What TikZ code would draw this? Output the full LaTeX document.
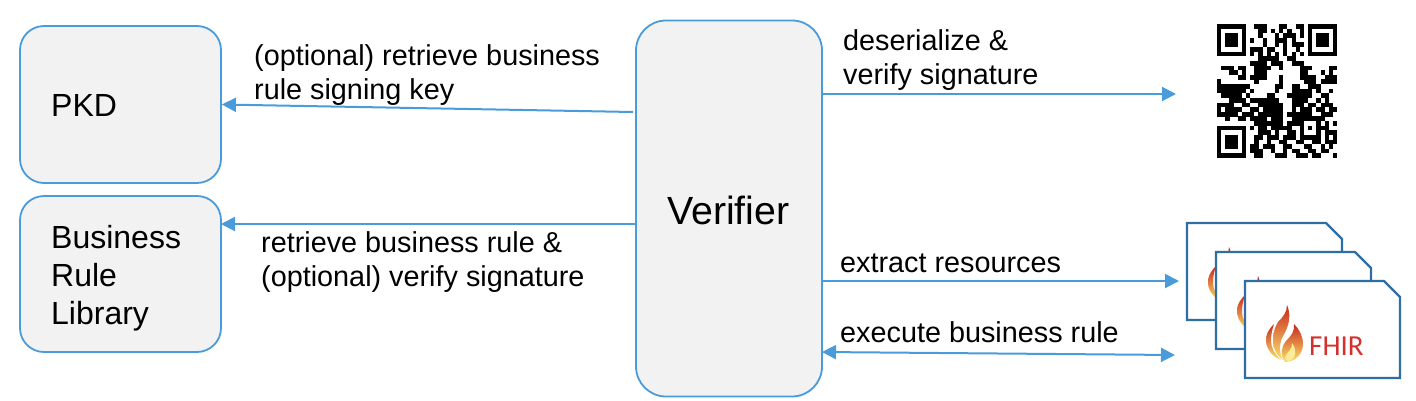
\documentclass[tikz,border=0pt]{standalone}
\usepackage{fontspec}
\setmainfont{Liberation Sans}
\newfontfamily\fhirfont{Carlito}
\definecolor{lineblue}{HTML}{4A9BD9}
\definecolor{boxfill}{HTML}{F2F2F2}
\definecolor{docblue}{HTML}{2E6EA3}
\definecolor{fhirred}{HTML}{D2322D}
\definecolor{flred}{HTML}{C8281E}
\definecolor{florange}{HTML}{F4A22E}
\definecolor{flyellow}{HTML}{FBE36A}
\usetikzlibrary{arrows.meta}
\newcount\qrcol
\newcount\qrrow
\def\qrscan#1{\ifx#1.\else\if1#1\fill[black] (1217+4.14*\the\qrcol,24+4.62*\the\qrrow) rectangle ++(4.24,4.72);\fi\advance\qrcol by 1 \expandafter\qrscan\fi}
\newcommand\qrline[1]{\qrcol=0 \qrscan#1.\advance\qrrow by 1 }
\newcommand\flameicon[2]{%
\begin{scope}[shift={(#1,#2)}]
 \shade[top color=flred,middle color=florange,bottom color=flyellow]
  (29,43) .. controls (23,49) and (20,55) .. (21,61) .. controls (22,69) and (28,76) .. (36,79) .. controls (30,73) and (26,67) .. (26,60) .. controls (26,54) and (27,49) .. (29,43) -- cycle;
 \shade[top color=flred,middle color=florange,bottom color=flyellow]
  (42,24) .. controls (42,31) and (38,36) .. (33,41) .. controls (29,47) and (28,54) .. (28,60) .. controls (28,68) and (32,75) .. (38,79) .. controls (34,72) and (34,64) .. (37,57) .. controls (41,50) and (48,38) .. (42,24) -- cycle;
 \shade[top color=flred,middle color=florange,bottom color=flyellow]
  (49,43) .. controls (50,50) and (46,55) .. (41,60) .. controls (36,66) and (35,74) .. (40,81) .. controls (50,81) and (58,73) .. (58,63) .. controls (58,55) and (54,48) .. (49,43) -- cycle;
 \fill[flyellow!70!white] (47,62) .. controls (48,68) and (42,71) .. (40,76) .. controls (40,79) and (41,80) .. (43,80) .. controls (50,79) and (53,70) .. (47,62) -- cycle;
\end{scope}}
\newcommand\docicon[2]{\draw[docicon] (#1,#2) -- ++(139,0) -- ++(16,16) -- ++(0,81) -- ++(-155,0) -- cycle;}
\tikzset{
 x=1pt,y=-1pt,
 boxnode/.style={draw=lineblue,fill=boxfill,line width=1.8pt,rounded corners=#1,inner sep=0pt},
 boxnode/.default=24pt,
 lbl/.style={anchor=base west,inner sep=0pt,font=\fontsize{28.8}{32}\selectfont},
 boxtext/.style={anchor=base west,inner sep=0pt,font=\fontsize{32}{36}\selectfont},
 conn/.style={draw=lineblue,line width=2pt,-{Triangle[length=14pt,width=14pt]}},
 connb/.style={draw=lineblue,line width=2pt,{Triangle[length=14pt,width=14pt]}-{Triangle[length=14pt,width=14pt]}},
 docicon/.style={draw=docblue,fill=white,line width=2.4pt},
}
\begin{document}
\begin{tikzpicture}
\useasboundingbox (0,0) rectangle (1416,400);
\node[boxnode,minimum width=201pt,minimum height=157pt] (pkd) at (120.5,104.5) {};
\node[boxnode,minimum width=201pt,minimum height=156pt] (brl) at (120.5,274) {};
\node[boxnode=30pt,minimum width=186pt,minimum height=376pt] (ver) at (729,208.5) {};
\node[boxtext] (tpkd) at (51,116) {PKD};
\node[boxtext] (tb1) at (51,248) {Business};
\node[boxtext] (tb2) at (51,286) {Rule};
\node[boxtext] (tb3) at (51,324) {Library};
\node[anchor=base west,inner sep=0pt,font=\fontsize{39.3}{42}\selectfont] (tver) at (667,224) {Verifier};
\node[lbl] (l1) at (254,65.7) {(optional) retrieve business};
\node[lbl] (l2) at (254,99.7) {rule signing key};
\node[lbl] (l3) at (261,252.7) {retrieve business rule \&};
\node[lbl] (l4) at (261,286.7) {(optional) verify signature};
\node[lbl] (l5) at (843,50.7) {deserialize \&};
\node[lbl] (l6) at (843,84.7) {verify signature};
\node[lbl] (l7) at (840,272.7) {extract resources};
\node[lbl] (l8) at (840,342.7) {execute business rule};
% QR code
\qrrow=0
\qrline{11111110011100011001101111111}
\qrline{10000010001101010100101000001}
\qrline{10111010001000101110101011101}
\qrline{10111010100100111010001011101}
\qrline{10111010000100101011101011101}
\qrline{10000010111011001001001000001}
\qrline{11111110101010101010101111111}
\qrline{00000000001111100110000000000}
\qrline{00000000111101110011100000000}
\qrline{01110110011110010000111000011}
\qrline{00011010011100000000110001010}
\qrline{00000110111100010000111100111}
\qrline{10000000010000010000011101111}
\qrline{11111111000000110011001110000}
\qrline{11111110100000100011111010010}
\qrline{01111101000011000111111001100}
\qrline{00011110111111100011110010100}
\qrline{11110011001111110011101101110}
\qrline{10111100110111110010111011011}
\qrline{11111011101111110111111001110}
\qrline{00100110111101110011111111000}
\qrline{00000000011111110111100010101}
\qrline{11111110101101111100101011100}
\qrline{10000010001110100110100010111}
\qrline{10111010011011101110111110101}
\qrline{10111010010010011001100110111}
\qrline{10111010110111001100011001010}
\qrline{10000010111001001011001101100}
\qrline{11111110011000111001110110001}
% documents
\docicon{1187}{223}
\flameicon{1187}{223}
\docicon{1216}{252}
\flameicon{1216}{252}
\docicon{1245}{281}
\flameicon{1245}{281}
\node[anchor=base west,inner sep=0pt,text=fhirred,font=\fhirfont\fontsize{29}{32}\selectfont] (fhir) at (1309,355) {FHIR};
% connectors
\coordinate (a1s) at (633,112);
\coordinate (a2s) at (636,224);
\coordinate (a2e) at (221,224);
\coordinate (a3s) at (822,94);
\coordinate (a3e) at (1176,94);
\coordinate (a4s) at (822,281);
\coordinate (a4e) at (1179,281);
\coordinate (a5s) at (822,352);
\coordinate (a5e) at (1175,355);
\draw[conn] (a1s) -- (pkd.east);
\draw[conn] (a2s) -- (a2e);
\draw[conn] (a3s) -- (a3e);
\draw[conn] (a4s) -- (a4e);
\draw[connb] (a5s) -- (a5e);
\end{tikzpicture}
\end{document}
